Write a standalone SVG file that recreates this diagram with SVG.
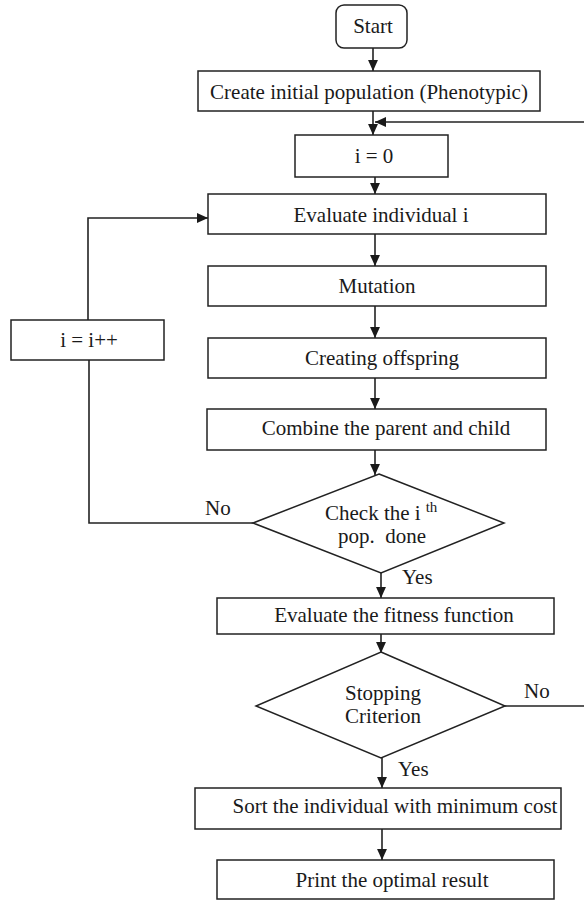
<svg xmlns="http://www.w3.org/2000/svg" width="584" height="900" viewBox="0 0 584 900">
  <style>
    .box { fill: #fff; stroke: #222; stroke-width: 1.5; }
    .line { fill: none; stroke: #222; stroke-width: 1.6; }
    text { font-family: "Liberation Serif", "Times New Roman", serif; font-size: 21px; fill: #1a1a1a; }
    .c { text-anchor: middle; }
  </style>
  <defs>
    <marker id="arrow" viewBox="0 0 10 10" refX="10" refY="5" markerWidth="11" markerHeight="11" orient="auto" markerUnits="userSpaceOnUse">
      <path d="M0,0.5 L10,5 L0,9.5 z" fill="#1a1a1a"/>
    </marker>
  </defs>
  <rect width="584" height="900" fill="#fff"/>

  <g id="connectors">
    <line class="line" x1="373" y1="48" x2="373" y2="71" marker-end="url(#arrow)"/>
    <line class="line" x1="373" y1="111" x2="373" y2="135" marker-end="url(#arrow)"/>
    <line class="line" x1="584" y1="122" x2="375" y2="122" marker-end="url(#arrow)"/>
    <line class="line" x1="375" y1="177" x2="375" y2="194" marker-end="url(#arrow)"/>
    <line class="line" x1="375" y1="234" x2="375" y2="266" marker-end="url(#arrow)"/>
    <line class="line" x1="375" y1="306" x2="375" y2="338" marker-end="url(#arrow)"/>
    <line class="line" x1="375" y1="378" x2="375" y2="409" marker-end="url(#arrow)"/>
    <line class="line" x1="375" y1="450" x2="375" y2="475" marker-end="url(#arrow)"/>
    <line class="line" x1="381" y1="573" x2="381" y2="598" marker-end="url(#arrow)"/>
    <polyline class="line" points="253,523 89,523 89,360"/>
    <polyline class="line" points="88,320 88,218 208,218" marker-end="url(#arrow)"/>
    <line class="line" x1="381" y1="634" x2="381" y2="653" marker-end="url(#arrow)"/>
    <line class="line" x1="382" y1="758" x2="382" y2="788" marker-end="url(#arrow)"/>
    <line class="line" x1="382" y1="829" x2="382" y2="860" marker-end="url(#arrow)"/>
    <line class="line" x1="505" y1="706" x2="584" y2="706"/>
    <text x="205" y="515">No</text>
    <text x="402" y="584">Yes</text>
    <text x="524" y="698">No</text>
    <text x="398" y="776">Yes</text>
  </g>

  <g id="start">
    <rect class="box" x="336" y="5" width="71" height="43" rx="8"/>
    <text class="c" x="373" y="33">Start</text>
  </g>
  <g id="create-population">
    <rect class="box" x="198" y="71" width="342" height="40"/>
    <text class="c" x="369" y="99">Create initial population (Phenotypic)</text>
  </g>
  <g id="init-i">
    <rect class="box" x="295" y="135" width="153" height="42"/>
    <text class="c" x="374" y="163">i = 0</text>
  </g>
  <g id="evaluate-individual">
    <rect class="box" x="208" y="194" width="338" height="40"/>
    <text class="c" x="381" y="222">Evaluate individual i</text>
  </g>
  <g id="mutation">
    <rect class="box" x="208" y="266" width="338" height="40"/>
    <text class="c" x="377" y="293">Mutation</text>
  </g>
  <g id="offspring">
    <rect class="box" x="208" y="338" width="338" height="40"/>
    <text class="c" x="382" y="365">Creating offspring</text>
  </g>
  <g id="combine">
    <rect class="box" x="207" y="409" width="339" height="41"/>
    <text class="c" x="386" y="435">Combine the parent and child</text>
  </g>
  <g id="increment-i">
    <rect class="box" x="11" y="320" width="153" height="40"/>
    <text class="c" x="89" y="347">i = i++</text>
  </g>
  <g id="check-done">
    <polygon class="box" points="379,474 504,523 381,573 253,523"/>
    <text x="325" y="520">Check the i<tspan dx="5" dy="-8" font-size="15">th</tspan></text>
    <text class="c" x="382" y="543" xml:space="preserve">pop.  done</text>
  </g>
  <g id="evaluate-fitness">
    <rect class="box" x="217" y="598" width="337" height="36"/>
    <text class="c" x="394" y="622">Evaluate the fitness function</text>
  </g>
  <g id="stopping">
    <polygon class="box" points="381,652 505,706 381,758 256,706"/>
    <text class="c" x="383" y="700">Stopping</text>
    <text class="c" x="383" y="723">Criterion</text>
  </g>
  <g id="sort">
    <rect class="box" x="195" y="788" width="366" height="41"/>
    <text class="c" x="395" y="813">Sort the individual with minimum cost</text>
  </g>
  <g id="print">
    <rect class="box" x="217" y="860" width="337" height="39"/>
    <text class="c" x="392" y="887">Print the optimal result</text>
  </g>
</svg>
